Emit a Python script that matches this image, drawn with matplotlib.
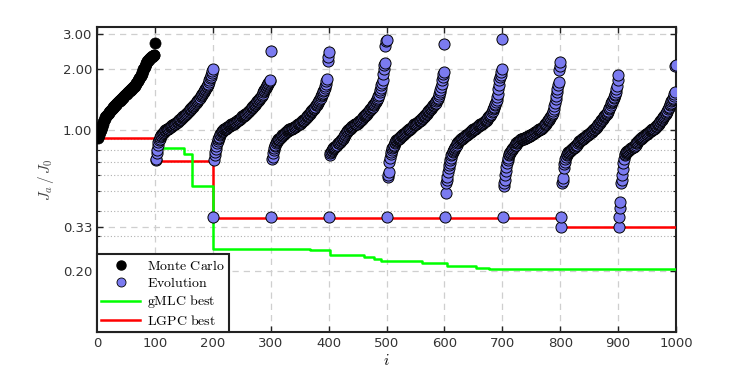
import numpy as np
import matplotlib.pyplot as plt
from matplotlib.lines import Line2D
from matplotlib.ticker import FixedLocator, NullFormatter, FormatStrFormatter

plt.rcParams['mathtext.fontset'] = 'cm'

# Monte Carlo individuals (i = 1..100), sorted cost
mc_vals = [0.92, 0.93, 0.95, 0.96, 0.98, 1.00, 1.02, 1.04, 1.06, 1.08,
           1.10, 1.12, 1.14, 1.16, 1.17, 1.18, 1.19, 1.20, 1.21, 1.22,
           1.23, 1.24, 1.25, 1.26, 1.27, 1.28, 1.29, 1.30, 1.31, 1.32,
           1.33, 1.34, 1.35, 1.36, 1.37, 1.38, 1.39, 1.39, 1.40, 1.41,
           1.42, 1.43, 1.44, 1.45, 1.46, 1.47, 1.48, 1.49, 1.50, 1.51,
           1.52, 1.53, 1.54, 1.55, 1.56, 1.57, 1.58, 1.59, 1.60, 1.61,
           1.62, 1.63, 1.64, 1.65, 1.66, 1.68, 1.70, 1.72, 1.74, 1.76,
           1.78, 1.80, 1.82, 1.84, 1.86, 1.88, 1.91, 1.94, 1.97, 2.00,
           2.03, 2.06, 2.09, 2.12, 2.15, 2.18, 2.20, 2.22, 2.24, 2.26,
           2.28, 2.29, 2.30, 2.31, 2.32, 2.33, 2.34, 2.35, 2.36, 2.72]

# Evolution, one list per generation (100 individuals each)
gen1 = [0.71, 0.72, 0.77, 0.80, 0.85, 0.87, 0.89, 0.91, 0.93, 0.94,
        0.95, 0.96, 0.97, 0.97, 0.98, 0.98, 0.99, 1.00, 1.00, 1.01,
        1.01, 1.02, 1.02, 1.03, 1.03, 1.04, 1.04, 1.05, 1.05, 1.06,
        1.06, 1.07, 1.07, 1.08, 1.08, 1.09, 1.09, 1.10, 1.10, 1.11,
        1.12, 1.12, 1.13, 1.14, 1.14, 1.15, 1.16, 1.16, 1.17, 1.18,
        1.19, 1.19, 1.20, 1.21, 1.22, 1.22, 1.23, 1.24, 1.25, 1.26,
        1.27, 1.28, 1.29, 1.30, 1.31, 1.32, 1.33, 1.34, 1.35, 1.36,
        1.37, 1.38, 1.40, 1.41, 1.42, 1.43, 1.44, 1.45, 1.47, 1.48,
        1.49, 1.51, 1.53, 1.55, 1.57, 1.58, 1.60, 1.62, 1.64, 1.66,
        1.68, 1.70, 1.74, 1.78, 1.81, 1.84, 1.88, 1.92, 1.96, 2.00]
gen2 = [0.37, 0.71, 0.75, 0.78, 0.81, 0.84, 0.86, 0.88, 0.90, 0.92,
        0.93, 0.95, 0.96, 0.97, 0.98, 0.99, 0.99, 1.00, 1.01, 1.01,
        1.02, 1.02, 1.03, 1.03, 1.04, 1.04, 1.05, 1.05, 1.05, 1.06,
        1.06, 1.07, 1.07, 1.07, 1.08, 1.08, 1.09, 1.09, 1.10, 1.10,
        1.11, 1.11, 1.12, 1.12, 1.13, 1.14, 1.14, 1.15, 1.15, 1.16,
        1.17, 1.17, 1.18, 1.19, 1.19, 1.20, 1.21, 1.21, 1.22, 1.23,
        1.23, 1.24, 1.25, 1.26, 1.27, 1.28, 1.29, 1.30, 1.31, 1.32,
        1.33, 1.34, 1.35, 1.36, 1.37, 1.38, 1.39, 1.40, 1.41, 1.43,
        1.44, 1.45, 1.46, 1.48, 1.50, 1.52, 1.54, 1.56, 1.58, 1.60,
        1.62, 1.64, 1.66, 1.68, 1.70, 1.72, 1.74, 1.76, 1.78, 2.48]
gen3 = [0.37, 0.72, 0.74, 0.77, 0.80, 0.82, 0.84, 0.85, 0.86, 0.87,
        0.88, 0.89, 0.90, 0.91, 0.91, 0.92, 0.93, 0.93, 0.94, 0.95,
        0.95, 0.96, 0.96, 0.97, 0.97, 0.98, 0.98, 0.99, 0.99, 1.00,
        1.00, 1.01, 1.01, 1.01, 1.02, 1.02, 1.03, 1.03, 1.03, 1.04,
        1.04, 1.04, 1.05, 1.05, 1.06, 1.06, 1.07, 1.07, 1.08, 1.08,
        1.09, 1.09, 1.10, 1.11, 1.11, 1.12, 1.13, 1.13, 1.14, 1.15,
        1.15, 1.16, 1.17, 1.18, 1.19, 1.20, 1.21, 1.22, 1.23, 1.24,
        1.25, 1.26, 1.27, 1.28, 1.29, 1.30, 1.31, 1.33, 1.34, 1.35,
        1.37, 1.38, 1.40, 1.41, 1.43, 1.45, 1.47, 1.49, 1.51, 1.53,
        1.56, 1.59, 1.62, 1.66, 1.70, 1.75, 1.80, 2.20, 2.30, 2.44]
gen4 = [0.37, 0.75, 0.77, 0.78, 0.79, 0.80, 0.81, 0.82, 0.82, 0.83,
        0.83, 0.84, 0.84, 0.85, 0.85, 0.86, 0.86, 0.86, 0.87, 0.87,
        0.88, 0.89, 0.90, 0.91, 0.92, 0.93, 0.94, 0.95, 0.96, 0.97,
        0.98, 0.99, 1.00, 1.00, 1.01, 1.02, 1.02, 1.03, 1.04, 1.04,
        1.05, 1.05, 1.06, 1.06, 1.07, 1.07, 1.08, 1.08, 1.08, 1.09,
        1.09, 1.10, 1.11, 1.11, 1.12, 1.13, 1.14, 1.14, 1.15, 1.16,
        1.17, 1.18, 1.19, 1.19, 1.20, 1.21, 1.22, 1.23, 1.24, 1.25,
        1.26, 1.27, 1.28, 1.29, 1.30, 1.31, 1.33, 1.34, 1.35, 1.37,
        1.38, 1.40, 1.41, 1.43, 1.45, 1.47, 1.50, 1.54, 1.58, 1.62,
        1.67, 1.72, 1.77, 1.90, 2.00, 2.10, 2.15, 2.60, 2.76, 2.80]
gen5 = [0.37, 0.59, 0.60, 0.62, 0.70, 0.73, 0.76, 0.78, 0.80, 0.82,
        0.83, 0.84, 0.85, 0.86, 0.87, 0.88, 0.89, 0.89, 0.90, 0.91,
        0.91, 0.92, 0.92, 0.93, 0.94, 0.94, 0.95, 0.95, 0.96, 0.96,
        0.97, 0.97, 0.98, 0.98, 0.99, 0.99, 1.00, 1.00, 1.01, 1.01,
        1.02, 1.03, 1.03, 1.04, 1.05, 1.05, 1.06, 1.07, 1.07, 1.08,
        1.08, 1.09, 1.09, 1.10, 1.10, 1.11, 1.11, 1.12, 1.12, 1.13,
        1.14, 1.15, 1.15, 1.16, 1.17, 1.18, 1.19, 1.20, 1.21, 1.22,
        1.23, 1.24, 1.25, 1.26, 1.27, 1.28, 1.29, 1.30, 1.31, 1.32,
        1.33, 1.34, 1.35, 1.36, 1.37, 1.39, 1.41, 1.43, 1.45, 1.48,
        1.51, 1.55, 1.59, 1.64, 1.70, 1.77, 1.84, 1.90, 1.94, 2.68]
gen6 = [0.37, 0.49, 0.55, 0.57, 0.59, 0.62, 0.65, 0.67, 0.69, 0.71,
        0.73, 0.75, 0.76, 0.78, 0.79, 0.80, 0.81, 0.82, 0.83, 0.84,
        0.85, 0.86, 0.87, 0.87, 0.88, 0.89, 0.89, 0.90, 0.91, 0.91,
        0.92, 0.92, 0.93, 0.93, 0.94, 0.94, 0.95, 0.95, 0.95, 0.96,
        0.96, 0.97, 0.97, 0.98, 0.98, 0.99, 0.99, 1.00, 1.00, 1.01,
        1.01, 1.02, 1.02, 1.03, 1.03, 1.04, 1.04, 1.05, 1.05, 1.06,
        1.06, 1.07, 1.07, 1.08, 1.08, 1.09, 1.09, 1.10, 1.10, 1.11,
        1.11, 1.12, 1.13, 1.14, 1.15, 1.16, 1.17, 1.18, 1.19, 1.20,
        1.21, 1.23, 1.25, 1.27, 1.29, 1.31, 1.33, 1.35, 1.38, 1.41,
        1.46, 1.52, 1.60, 1.68, 1.77, 1.83, 1.88, 1.94, 2.02, 2.84]
gen7 = [0.37, 0.53, 0.55, 0.57, 0.60, 0.63, 0.66, 0.69, 0.71, 0.73,
        0.75, 0.76, 0.77, 0.78, 0.79, 0.80, 0.81, 0.82, 0.82, 0.83,
        0.84, 0.85, 0.85, 0.86, 0.86, 0.87, 0.87, 0.88, 0.88, 0.89,
        0.89, 0.90, 0.90, 0.90, 0.91, 0.91, 0.91, 0.92, 0.92, 0.92,
        0.93, 0.93, 0.93, 0.93, 0.94, 0.94, 0.94, 0.95, 0.95, 0.95,
        0.96, 0.96, 0.96, 0.97, 0.97, 0.98, 0.98, 0.98, 0.99, 0.99,
        1.00, 1.00, 1.00, 1.01, 1.01, 1.02, 1.02, 1.03, 1.03, 1.04,
        1.04, 1.05, 1.06, 1.07, 1.08, 1.09, 1.10, 1.11, 1.12, 1.13,
        1.14, 1.15, 1.16, 1.17, 1.19, 1.20, 1.22, 1.25, 1.28, 1.32,
        1.37, 1.43, 1.48, 1.54, 1.60, 1.67, 1.74, 1.98, 2.08, 2.18]
gen8 = [0.33, 0.37, 0.55, 0.56, 0.58, 0.65, 0.68, 0.70, 0.72, 0.74,
        0.75, 0.76, 0.77, 0.78, 0.78, 0.79, 0.79, 0.80, 0.80, 0.81,
        0.81, 0.82, 0.82, 0.83, 0.83, 0.83, 0.84, 0.85, 0.85, 0.86,
        0.86, 0.87, 0.88, 0.88, 0.89, 0.89, 0.90, 0.91, 0.91, 0.92,
        0.92, 0.93, 0.93, 0.94, 0.94, 0.95, 0.95, 0.95, 0.96, 0.96,
        0.97, 0.97, 0.98, 0.98, 0.99, 1.00, 1.00, 1.01, 1.02, 1.02,
        1.03, 1.04, 1.04, 1.05, 1.06, 1.07, 1.08, 1.09, 1.10, 1.11,
        1.12, 1.13, 1.14, 1.15, 1.16, 1.17, 1.18, 1.19, 1.20, 1.21,
        1.22, 1.23, 1.25, 1.27, 1.29, 1.31, 1.33, 1.36, 1.38, 1.40,
        1.42, 1.44, 1.46, 1.49, 1.52, 1.55, 1.60, 1.66, 1.77, 1.87]
gen9 = [0.33, 0.37, 0.41, 0.44, 0.55, 0.57, 0.60, 0.64, 0.69, 0.72,
        0.75, 0.76, 0.77, 0.78, 0.78, 0.79, 0.79, 0.80, 0.80, 0.81,
        0.81, 0.82, 0.82, 0.82, 0.83, 0.83, 0.83, 0.84, 0.84, 0.85,
        0.86, 0.86, 0.87, 0.88, 0.88, 0.89, 0.90, 0.90, 0.91, 0.92,
        0.92, 0.93, 0.93, 0.94, 0.94, 0.95, 0.95, 0.96, 0.96, 0.96,
        0.97, 0.97, 0.98, 0.98, 0.99, 0.99, 1.00, 1.00, 1.01, 1.01,
        1.02, 1.02, 1.03, 1.03, 1.04, 1.05, 1.05, 1.06, 1.07, 1.08,
        1.09, 1.10, 1.11, 1.12, 1.13, 1.14, 1.15, 1.16, 1.17, 1.18,
        1.19, 1.20, 1.22, 1.23, 1.25, 1.27, 1.29, 1.31, 1.33, 1.35,
        1.37, 1.39, 1.41, 1.43, 1.45, 1.48, 1.51, 1.55, 2.07, 2.11]

# best-so-far curves (step changes)
gmlc_i = [100, 150, 164, 200, 367, 402, 461, 478, 490, 562, 605, 654, 677, 1000]
gmlc_val = [0.815, 0.764, 0.527, 0.259, 0.254, 0.241, 0.235, 0.230, 0.226,
            0.219, 0.213, 0.208, 0.206, 0.206]
lgpc_i = [0, 100, 200, 800, 1000]
lgpc_val = [0.913, 0.706, 0.369, 0.331, 0.331]

evo_vals = gen1 + gen2 + gen3 + gen4 + gen5 + gen6 + gen7 + gen8 + gen9
mc_x = np.arange(1, len(mc_vals) + 1)
evo_x = np.arange(101, 101 + len(evo_vals))

blue = '#7b7bf0'
fig = plt.figure(figsize=(7.47, 3.74), dpi=100)
ax = fig.add_axes([0.130, 0.112, 0.775, 0.816])

ax.step(lgpc_i, lgpc_val, where='post', color='#ff0000', lw=1.8, zorder=3)
ax.step(gmlc_i, gmlc_val, where='post', color='#00ff00', lw=1.8, zorder=3)
ax.plot(mc_x, mc_vals, 'o', ms=8, mfc='black', mec='black', mew=0.5, zorder=4)
ax.plot(evo_x, evo_vals, 'o', ms=8, mfc=blue, mec='black', mew=0.7, zorder=4)

ax.set_yscale('log')
ax.set_xlim(0, 1000)
ax.set_ylim(0.1, 3.25)
ax.set_xticks(range(0, 1001, 100))
ax.yaxis.set_major_locator(FixedLocator([0.2, 0.33, 1, 2, 3]))
ax.yaxis.set_major_formatter(FormatStrFormatter('%.2f'))
ax.yaxis.set_minor_locator(FixedLocator([0.2, 0.3, 0.4, 0.5, 0.6, 0.7, 0.8, 0.9]))
ax.yaxis.set_minor_formatter(NullFormatter())

ax.grid(which='major', ls=(0, (5, 4)), color='#cfcfcf', lw=0.9, zorder=0)
ax.grid(which='minor', axis='y', ls=(0, (1, 2)), color='#b0b0b0', lw=0.8, zorder=0)
ax.set_axisbelow(True)

ax.tick_params(which='both', direction='in', top=True, right=True,
               labelsize=9.5, labelcolor='#333333', color='#222222')
ax.tick_params(which='major', length=4.5, width=1)
ax.tick_params(which='minor', length=2.5, width=0.8)
for s in ax.spines.values():
    s.set_linewidth(1.5)
    s.set_color('#222222')

ax.set_xlabel(r'$i$', fontsize=11, labelpad=2)
ax.set_ylabel(r'$J_a\,/\,J_0$', fontsize=11, labelpad=5, color='#444444')

handles = [
    Line2D([], [], ls='none', marker='o', ms=6.5, mfc='black', mec='black'),
    Line2D([], [], ls='none', marker='o', ms=6.5, mfc=blue, mec='black', mew=0.6),
    Line2D([], [], color='#00ff00', lw=1.8),
    Line2D([], [], color='#ff0000', lw=1.8),
]
labels = [r'$\mathrm{Monte\ Carlo}$', r'$\mathrm{Evolution}$',
          r'$\mathrm{gMLC\ best}$', r'$\mathrm{LGPC\ best}$']
leg = ax.legend(handles, labels, loc='lower left', borderaxespad=0,
                fancybox=False, framealpha=1, edgecolor='#222222',
                fontsize=10, handlelength=2.8, handletextpad=0.5,
                labelspacing=0.25, borderpad=0.3)
leg.get_frame().set_linewidth(1.5)
leg.set_zorder(10)

fig.savefig('out.png', dpi=100)
